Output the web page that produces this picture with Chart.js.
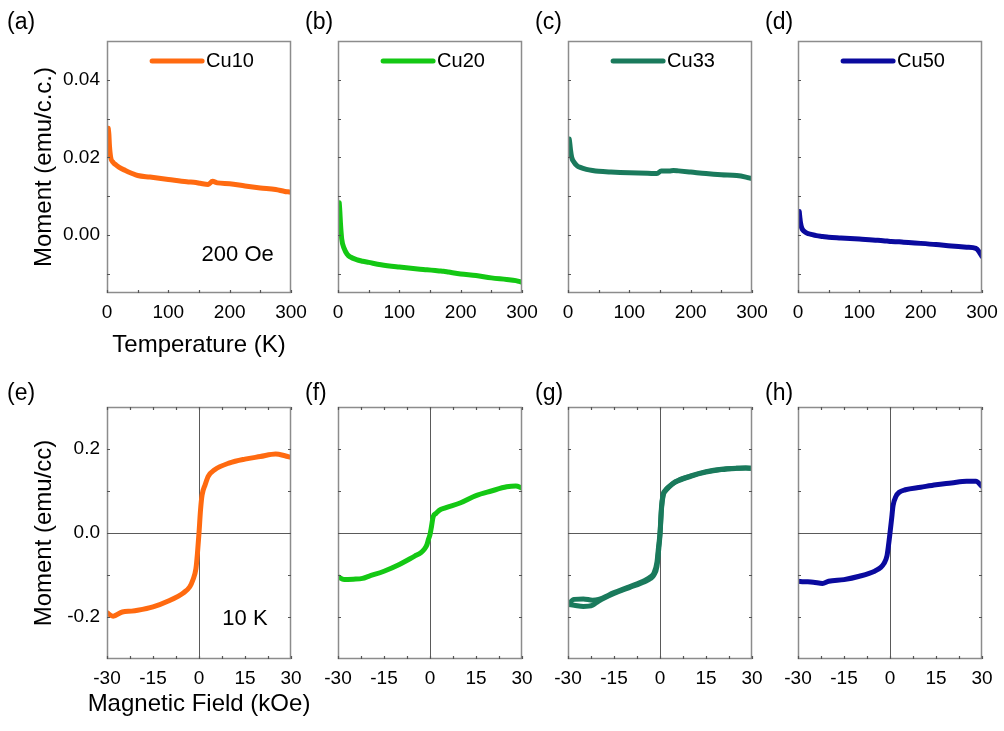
<!DOCTYPE html>
<html>
<head>
<meta charset="utf-8">
<script src="https://cdn.jsdelivr.net/npm/chart.js@4.4.1/dist/chart.umd.min.js"></script>
<style>
  body { margin: 0; background: #fff; }
  #wrap { position: relative; width: 1004px; height: 731px; overflow: hidden; }
  #wrap canvas { position: absolute; }
</style>
</head>
<body>
<div id="wrap"></div>
<script>
// M(T) at 200 Oe
const temperature = [2, 3, 4, 6, 10, 15, 20, 30, 40, 50, 70, 100, 130, 145, 152, 165, 172, 180, 200, 225, 250, 275, 290, 295, 300];
const cu10MT = [0.0275, 0.026, 0.023, 0.020, 0.0187, 0.0180, 0.0174, 0.0166, 0.0159, 0.0153, 0.0149, 0.0143, 0.0137, 0.0135, 0.0133, 0.0130, 0.0138, 0.0134, 0.0132, 0.0126, 0.0121, 0.0117, 0.0112, 0.0111, 0.0110];
const cu20MT = [0.0083, 0.006, 0.003, -0.001, -0.0035, -0.005, -0.0057, -0.0064, -0.0068, -0.0071, -0.0077, -0.0083, -0.0088, -0.0090, -0.0091, -0.0093, -0.0094, -0.0096, -0.0101, -0.0105, -0.0111, -0.0115, -0.0118, -0.0120, -0.0122];
const cu33MT = [0.0247, 0.0235, 0.022, 0.0200, 0.0187, 0.0178, 0.0174, 0.0169, 0.0166, 0.0164, 0.0162, 0.0160, 0.0159, 0.0158, 0.0165, 0.0165, 0.0166, 0.0165, 0.0162, 0.0158, 0.0155, 0.0153, 0.0149, 0.0147, 0.0145];
const cu50MT = [0.0060, 0.0045, 0.0032, 0.0018, 0.0009, 0.0004, 0.0002, -0.0002, -0.0004, -0.0006, -0.0008, -0.0011, -0.0014, -0.0016, -0.0017, -0.0018, -0.0019, -0.0020, -0.0022, -0.0025, -0.0029, -0.0032, -0.0035, -0.0043, -0.0056];

// M(H) at 10 K
const field = [-30, -28, -25, -22, -20, -15, -10, -5, -3, -2, -1, -0.5, 0, 0.5, 1, 2, 3, 5, 10, 15, 20, 25, 28, 30];
const cu10MH = [-0.190, -0.198, -0.188, -0.186, -0.184, -0.176, -0.162, -0.142, -0.128, -0.112, -0.085, -0.048, 0.0, 0.055, 0.090, 0.115, 0.135, 0.150, 0.167, 0.176, 0.182, 0.188, 0.184, 0.180];
const cu20MH = [-0.104, -0.111, -0.110, -0.108, -0.103, -0.091, -0.075, -0.055, -0.047, -0.040, -0.028, -0.015, -0.004, 0.016, 0.038, 0.047, 0.054, 0.060, 0.072, 0.089, 0.100, 0.110, 0.112, 0.107];
const cu33MHdown = [-0.170, -0.158, -0.157, -0.160, -0.158, -0.142, -0.128, -0.113, -0.104, -0.096, -0.070, -0.035, 0.0, 0.063, 0.091, 0.104, 0.111, 0.122, 0.136, 0.146, 0.152, 0.154, 0.155, 0.154];
const cu33MHup = [-0.170, -0.172, -0.175, -0.172, -0.162, -0.144, -0.130, -0.116, -0.108, -0.100, -0.080, -0.045, -0.005, 0.058, 0.088, 0.102, 0.110, 0.121, 0.135, 0.145, 0.151, 0.154, 0.155, 0.154];
const cu50MH = [-0.115, -0.116, -0.117, -0.120, -0.115, -0.111, -0.103, -0.091, -0.082, -0.073, -0.055, -0.030, 0.0, 0.032, 0.065, 0.088, 0.097, 0.103, 0.109, 0.115, 0.119, 0.123, 0.123, 0.111];

// ticks
const tempTicks = [0, 100, 200, 300];
const tempMinor = [50, 150, 250];
const momentTTicks = [0, 0.02, 0.04];
const momentTMinor = [-0.01, 0.01, 0.03];
const fieldTicks = [-30, -15, 0, 15, 30];
const fieldMinor = [-22.5, -7.5, 7.5, 22.5];
const momentHTicks = [-0.2, 0, 0.2];
const momentHMinor = [-0.1, 0.1];

const samples = ['Cu10', 'Cu20', 'Cu33', 'Cu50'];
const colors = ['#ff6a10', '#14c814', '#1a7a5c', '#0a0a9e'];
const panelLetters = ['(a)', '(b)', '(c)', '(d)', '(e)', '(f)', '(g)', '(h)'];

const FONT = "'Liberation Sans', Arial, sans-serif";
const FRAME = '#8c8c8c';
const ZERO = '#5a5a5a';

// frame, inward ticks, legend and panel texts
const panelDeco = {
  id: 'panelDeco',
  afterDatasetsDraw(chart, args, opts) {
    const ctx = chart.ctx;
    const a = chart.chartArea;
    const xs = chart.scales.x, ys = chart.scales.y;
    ctx.save();
    ctx.strokeStyle = FRAME;
    ctx.lineWidth = 1.5;
    ctx.strokeRect(Math.round(a.left) + 0.5, Math.round(a.top) + 0.5, Math.round(a.width) - 1, Math.round(a.height) - 1);
    ctx.lineWidth = 1.2;
    ctx.strokeStyle = '#555';
    ctx.beginPath();
    const mark = (vals, len) => {
      vals.forEach(v => {
        const px = Math.round(xs.getPixelForValue(v)) + 0.5;
        ctx.moveTo(px, a.bottom); ctx.lineTo(px, a.bottom - len);
        if (opts.allSides) { ctx.moveTo(px, a.top); ctx.lineTo(px, a.top + len); }
      });
    };
    const markY = (vals, len) => {
      vals.forEach(v => {
        const py = Math.round(ys.getPixelForValue(v)) + 0.5;
        ctx.moveTo(a.left, py); ctx.lineTo(a.left + len, py);
        if (opts.allSides) { ctx.moveTo(a.right, py); ctx.lineTo(a.right - len, py); }
      });
    };
    mark(opts.xMajor, 3); mark(opts.xMinor, 3);
    markY(opts.yMajor, 3); markY(opts.yMinor, 3);
    ctx.stroke();

    ctx.fillStyle = '#000';
    ctx.textBaseline = 'middle';
    // panel letter
    ctx.font = '23px ' + FONT;
    ctx.textAlign = 'left';
    ctx.fillText(opts.letter, a.left + opts.letterDx, a.top + opts.letterDy);

    // x axis title (first column only)
    if (opts.xTitle) {
      ctx.font = '24px ' + FONT;
      ctx.textAlign = 'center';
      ctx.fillText(opts.xTitle, (a.left + a.right) / 2, a.bottom + opts.xTitleDy);
    }

    // legend
    if (opts.legend) {
      const ds = chart.data.datasets[0];
      ctx.font = '20px ' + FONT;
      ctx.textAlign = 'left';
      const tw = ctx.measureText(ds.label).width;
      const total = 50 + 4 + tw;
      const x0 = (a.left + a.right) / 2 - total / 2 + 4;
      const yc = a.top + 20;
      ctx.strokeStyle = ds.borderColor;
      ctx.lineWidth = 5;
      ctx.lineCap = 'round';
      ctx.beginPath(); ctx.moveTo(x0, yc); ctx.lineTo(x0 + 50, yc); ctx.stroke();
      ctx.fillText(ds.label, x0 + 54, yc);
    }

    // annotation
    if (opts.note) {
      ctx.font = '22px ' + FONT;
      ctx.textAlign = 'center';
      ctx.fillText(opts.note.text, xs.getPixelForValue(opts.note.x), ys.getPixelForValue(opts.note.y));
    }
    ctx.restore();
  }
};

function points(xv, yv) {
  return xv.map((v, i) => ({ x: v, y: yv[i] }));
}

function setTicks(vals) {
  return scale => { scale.ticks = vals.map(v => ({ value: v })); };
}

function makePanel(p) {
  const canvas = document.createElement('canvas');
  const W = 316;
  const H = p.row === 0 ? 365 : 361;
  canvas.width = W; canvas.height = H;
  canvas.style.left = (p.plotLeft - 107) + 'px';
  canvas.style.top = (p.row === 0 ? 0 : 370) + 'px';
  document.getElementById('wrap').appendChild(canvas);

  const isT = p.row === 0;
  new Chart(canvas, {
    type: 'scatter',
    data: {
      datasets: p.series.map(s => ({
        label: s.label,
        data: s.data,
        showLine: true,
        borderColor: s.color,
        backgroundColor: s.color,
        borderWidth: 5,
        pointRadius: 0,
        borderJoinStyle: 'round',
        borderCapStyle: 'round',
        cubicInterpolationMode: 'monotone'
      }))
    },
    options: {
      responsive: false,
      animation: false,
      events: [],
      layout: { padding: { left: 0, right: 25, top: isT ? 41 : 37, bottom: 0 } },
      plugins: {
        legend: { display: false },
        tooltip: { enabled: false },
        panelDeco: {
          allSides: !isT,
          xMajor: isT ? tempTicks : fieldTicks,
          xMinor: isT ? tempMinor : fieldMinor,
          yMajor: isT ? momentTTicks : momentHTicks,
          yMinor: isT ? momentTMinor : momentHMinor,
          letter: p.letter,
          letterDx: p.col === 0 ? -100 : -33,
          letterDy: isT ? -18 : -13,
          legend: isT,
          note: p.note,
          xTitle: p.col === 0 ? (isT ? 'Temperature (K)' : 'Magnetic Field (kOe)') : null,
          xTitleDy: isT ? 52 : 45
        }
      },
      scales: {
        x: {
          type: 'linear',
          min: isT ? 0 : -30,
          max: isT ? 300 : 30,
          afterBuildTicks: setTicks(isT ? tempTicks : fieldTicks),
          afterFit: s => { s.height = 72; },
          border: { display: false },
          grid: {
            display: !isT,
            drawTicks: false,
            color: c => (c.tick && c.tick.value === 0) ? ZERO : 'rgba(0,0,0,0)'
          },
          ticks: {
            padding: 8,
            color: '#000',
            maxRotation: 0,
            font: { family: FONT, size: 19 },
            callback: v => String(v)
          }
        },
        y: {
          type: 'linear',
          min: isT ? -0.015 : -0.3,
          max: isT ? 0.05 : 0.3,
          afterBuildTicks: setTicks(isT ? momentTTicks : momentHTicks),
          afterFit: s => { s.width = 107; },
          border: { display: false },
          grid: {
            display: !isT,
            drawTicks: false,
            color: c => (c.tick && c.tick.value === 0) ? ZERO : 'rgba(0,0,0,0)'
          },
          ticks: {
            display: p.col === 0,
            padding: 7,
            color: '#000',
            font: { family: FONT, size: 19 },
            callback: v => isT ? v.toFixed(2) : v.toFixed(1)
          },
          title: {
            display: p.col === 0,
            text: isT ? 'Moment (emu/c.c.)' : 'Moment (emu/cc)',
            color: '#000',
            font: { family: FONT, size: 24 },
            padding: { top: 30, bottom: 0 }
          }
        }
      }
    },
    plugins: [panelDeco]
  });
}

const plotLefts = [107, 338, 568, 798];
const mtData = [cu10MT, cu20MT, cu33MT, cu50MT];
const mhData = [[cu10MH], [cu20MH], [cu33MHdown, cu33MHup], [cu50MH]];

plotLefts.forEach((left, i) => {
  makePanel({
    row: 0, col: i, plotLeft: left, letter: panelLetters[i],
    series: [{ label: samples[i], color: colors[i], data: points(temperature, mtData[i]) }],
    note: i === 0 ? { text: '200 Oe', x: 213, y: -0.0052 } : null
  });
});

plotLefts.forEach((left, i) => {
  makePanel({
    row: 1, col: i, plotLeft: left, letter: panelLetters[i + 4],
    series: mhData[i].map(d => ({ label: samples[i], color: colors[i], data: points(field, d) })),
    note: i === 0 ? { text: '10 K', x: 15, y: -0.205 } : null
  });
});
</script>
</body>
</html>
